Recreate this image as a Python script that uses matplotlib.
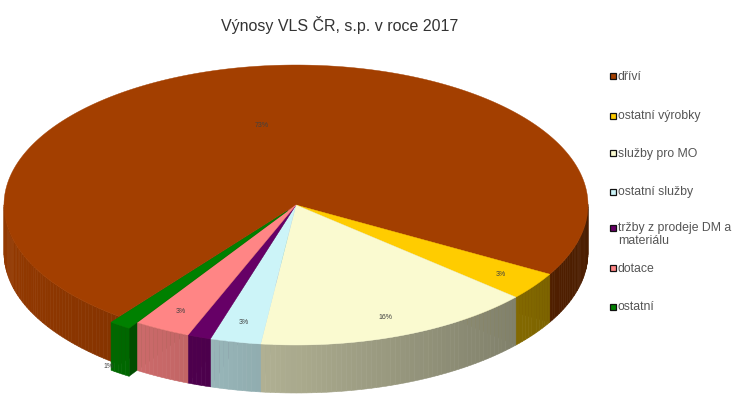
import numpy as np
import matplotlib.pyplot as plt
from matplotlib.patches import Polygon, Rectangle
from matplotlib.colors import to_rgb

# data
categories = ['dříví', 'ostatní výrobky', 'služby pro MO', 'ostatní služby',
              'tržby z prodeje DM a\nmateriálu', 'dotace', 'ostatní']
values = [72.9, 3.2, 15.5, 2.8, 1.3, 3.1, 1.2]
show_label = [True, True, True, True, False, True, True]
colors = ['#A33F00', '#FFCC00', '#FAFAD0', '#CCF4F8', '#660066', '#FF8585', '#008000']
exploded = [False, False, False, False, False, False, True]
title = 'Výnosy VLS ČR, s.p. v roce 2017'

W, H = 735, 401
fig = plt.figure(figsize=(W / 100, H / 100), dpi=100)
ax = fig.add_axes([0, 0, 1, 1])
ax.set_xlim(0, W)
ax.set_ylim(H, 0)
ax.axis('off')

# pie geometry (pixel units, y down)
cx, cy, a, b, depth = 296, 205, 292, 140, 48
start = 127.2


def pt(th, r=1.0, dz=0.0, off=(0, 0)):
    t = np.radians(th)
    return (cx + off[0] + r * a * np.cos(t), cy + off[1] + r * b * np.sin(t) + dz)


def shade(col, f):
    return tuple(min(1, c * f) for c in to_rgb(col))


total = sum(values)
bounds = []
s = start
for v in values:
    e = s + 360 * v / total
    bounds.append((s, e))
    s = e


def draw_slice(i, part):
    s, e = bounds[i]
    col = colors[i]
    mid = (s + e) / 2
    off = (0, 0)
    if exploded[i]:
        off = (0.05 * a * np.cos(np.radians(mid)), 0.05 * b * np.sin(np.radians(mid)))
    if part == 'faces':
        for th, vis in ((s, np.cos(np.radians(s)) < 0), (e, np.cos(np.radians(e)) > 0)):
            if vis:
                c0 = pt(0, 0, 0, off)
                quad = [c0, pt(th, 1, 0, off), pt(th, 1, depth, off), (c0[0], c0[1] + depth)]
                ax.add_patch(Polygon(quad, closed=True, fc=shade(col, 0.6),
                                     ec=shade(col, 0.6), lw=0.3))
    elif part == 'wall':
        ths = np.linspace(s, e, max(2, int(e - s) + 2))
        for t0, t1 in zip(ths[:-1], ths[1:]):
            tm = (t0 + t1) / 2
            if np.sin(np.radians(tm)) <= 0:
                continue
            f = 0.68 - 0.22 * np.cos(np.radians(tm))
            c = shade(col, f)
            quad = [pt(t0, 1, 0, off), pt(t1, 1, 0, off), pt(t1, 1, depth, off), pt(t0, 1, depth, off)]
            ax.add_patch(Polygon(quad, closed=True, fc=c, ec=c, lw=0.4))
    elif part == 'top':
        ths = np.linspace(s, e, max(3, int(e - s) * 2))
        poly = [pt(0, 0, 0, off)] + [pt(t, 1, 0, off) for t in ths]
        ax.add_patch(Polygon(poly, closed=True, fc=col, ec=col, lw=0.3))


idx = range(len(values))
# cut faces first so the tops hide everything except the gap of the pulled-out slice
for i in idx:
    draw_slice(i, 'faces')
for i in idx:
    if not exploded[i]:
        draw_slice(i, 'wall')
for i in idx:
    if not exploded[i]:
        draw_slice(i, 'top')
for i in idx:
    if exploded[i]:
        draw_slice(i, 'wall')
        draw_slice(i, 'top')

# percentage labels
for i, v in enumerate(values):
    if not show_label[i]:
        continue
    s, e = bounds[i]
    mid = (s + e) / 2
    txt = '%d%%' % round(v / total * 100)
    if v / total > 0.5:
        x, y = pt(mid, 0.58)
    elif exploded[i]:
        x, y = pt(mid, 1.12, depth * 0.7)
    else:
        x, y = pt(mid, 0.86)
    ax.text(x, y, txt, fontsize=5, color='#404040', ha='center', va='center',
            family='Liberation Sans')

# title
ax.text(340, 25, title, fontsize=11.5, color='#333333', ha='center', va='center',
        family='Liberation Sans')

# legend
leg_y = [76, 116, 153, 192, 228, 268, 307]
for i, name in enumerate(categories):
    y = leg_y[i]
    ax.add_patch(Rectangle((610, y - 3), 6, 6, fc=colors[i], ec='#111111', lw=0.9))
    ax.text(618, y - 5.5, name, fontsize=8.8, color='#555555', ha='left', va='top',
            family='Liberation Sans', linespacing=1.1)

fig.savefig('out.png', dpi=100)
